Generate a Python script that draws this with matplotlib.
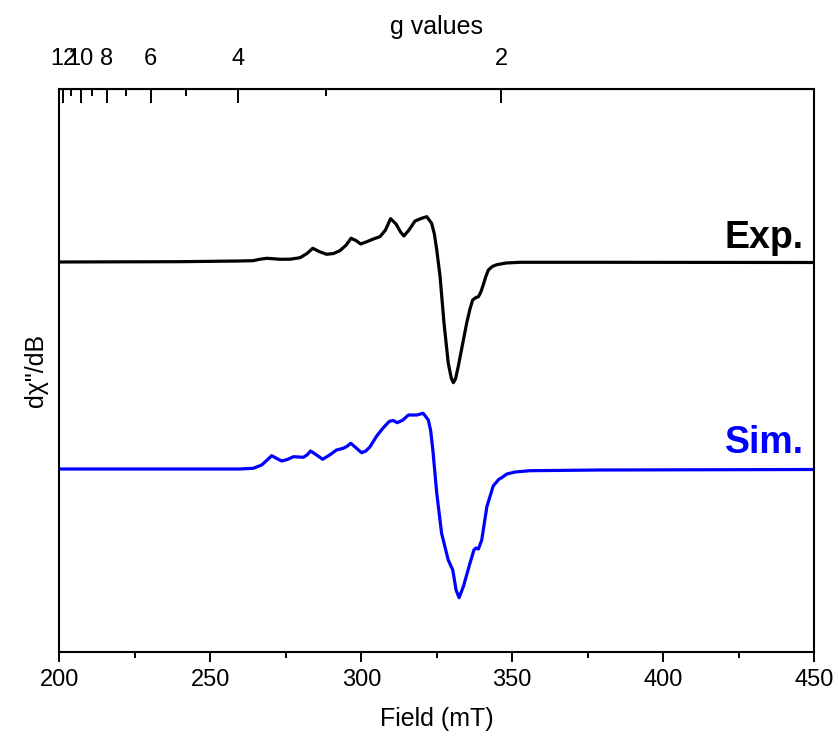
import matplotlib
matplotlib.use('Agg')
import matplotlib.pyplot as plt
import numpy as np

plt.rcParams['font.family'] = ['Liberation Sans', 'DejaVu Sans']

# experimental spectrum (field in mT, intensity in arb. units)
exp_field = [200, 240, 259.8, 264.1, 266.5, 268.7, 271, 273.1, 276.5, 279.7,
             282, 283.9, 286, 288.5, 290.8, 292.9, 295, 296.6, 298.2, 299.8,
             302, 304.0, 306.2, 308, 309.7, 311.5, 313, 314.1, 315.8, 317.8,
             320.0, 321.7, 323.3, 324.2, 325.0, 326.1, 327.4, 328.8, 329.8,
             330.5, 331.2, 332.1, 333.5, 334.9, 336.0, 336.9, 338.0, 338.8,
             339.6, 340.4, 341.2, 342.1, 343.4, 344.9, 348, 352.6, 380, 450]
exp_int = [0, 0.3, 1, 1.3, 2.8, 3.7, 3.2, 2.7, 2.8, 4.3,
           8.5, 13.7, 10.5, 7.7, 8.5, 11.3, 17, 23.7, 21.5, 18,
           20.5, 23, 25.3, 32, 43.3, 38, 30, 26, 32, 41,
           43.7, 45.3, 38.7, 28, 12, -14.7, -61, -101, -116,
           -120.7, -117, -104.7, -83, -61.3, -47, -38, -35.5, -34.7,
           -30, -23, -15, -8, -4.5, -2.7, -1, -0.3, -0.3, -0.5]

# simulated spectrum
sim_field = [200, 240, 259.8, 264.2, 267.0, 268.8, 270.3, 272.0, 273.6, 275.5,
             277.5, 280.8, 282.0, 283.2, 285.2, 287.2, 289.5, 291.8, 294.0,
             295.2, 296.5, 298.3, 300.1, 301.5, 302.9, 305.1, 307.2, 309.3,
             310.6, 311.9, 313.8, 315.6, 318.4, 320.5, 322.2, 323.0, 323.7,
             325.0, 326.6, 328.8, 330.3, 331.4, 332.4, 333.8, 336.0, 337.3,
             338.0, 338.8, 339.9, 341.6, 343.7, 345.5, 347.0, 348.2, 351,
             355.9, 379.1, 450]
sim_int = [0, 0, 0, 0.7, 4, 9, 13.3, 10.5, 8, 9.5,
           12.3, 11.7, 14, 18, 14, 9.7, 14, 19, 20.7,
           22.5, 25.7, 21, 16.3, 18, 22.3, 33, 41, 47.7,
           48.5, 46.3, 49, 54, 54, 55.7, 49, 38, 19,
           -24.3, -64.3, -91, -101, -121, -128.7, -117.7, -94.3, -81,
           -79, -80, -71, -37.7, -17, -10.5, -7.7, -5, -3,
           -1.7, -1, -0.5]

g_major = [12, 10, 8, 6, 4, 2]
g_minor = [11, 9, 7, 5, 3]

exp_offset = 207


# g axis as drawn on the original (linear in 1/g)
def field_to_g(b):
    b = np.asarray(b, dtype=float)
    return 348.2 / np.maximum(b - 172.2, 1e-6)


def g_to_field(g):
    g = np.asarray(g, dtype=float)
    return 172.2 + 348.2 / np.maximum(g, 1e-6)


fig = plt.figure(figsize=(8.38, 7.49), dpi=100)
ax = fig.add_axes([0.071, 0.1295, 0.9004, 0.7517])

ax.plot(exp_field, np.array(exp_int) + exp_offset, color='black', lw=2.3,
        solid_joinstyle='round', solid_capstyle='round')
ax.plot(sim_field, sim_int, color='#0000ff', lw=2.3,
        solid_joinstyle='round', solid_capstyle='round')

ax.set_xlim(200, 450)
ax.set_ylim(-183, 380)
ax.set_yticks([])
ax.set_xticks([200, 250, 300, 350, 400, 450])
ax.set_xticks([225, 275, 325, 375, 425], minor=True)
ax.tick_params(axis='x', which='major', direction='out', length=7, width=1.4,
               labelsize=17, pad=5)
ax.tick_params(axis='x', which='minor', direction='out', length=4, width=1.4)
for sp in ax.spines.values():
    sp.set_linewidth(1.5)

ax.set_xlabel('Field (mT)', fontsize=18, labelpad=12)
ax.set_ylabel('d\u03c7"/dB', fontsize=18, labelpad=8)

top = ax.secondary_xaxis('top', functions=(field_to_g, g_to_field))
top.set_xticks(g_major)
top.set_xticks(g_minor, minor=True)
top.set_xticklabels([str(g) for g in g_major])
top.tick_params(axis='x', which='major', direction='in', length=10, width=1.4,
                labelsize=17, pad=14)
top.tick_params(axis='x', which='minor', direction='in', length=5, width=1.4)
top.set_xlabel('g values', fontsize=18, labelpad=10)

ax.text(446.7, exp_offset + 14, 'Exp.', fontsize=27, fontweight='bold',
        ha='right', va='baseline', color='black')
ax.text(446.7, 15.7, 'Sim.', fontsize=27, fontweight='bold',
        ha='right', va='baseline', color='#0000ff')

fig.savefig('out.png', dpi=100)
